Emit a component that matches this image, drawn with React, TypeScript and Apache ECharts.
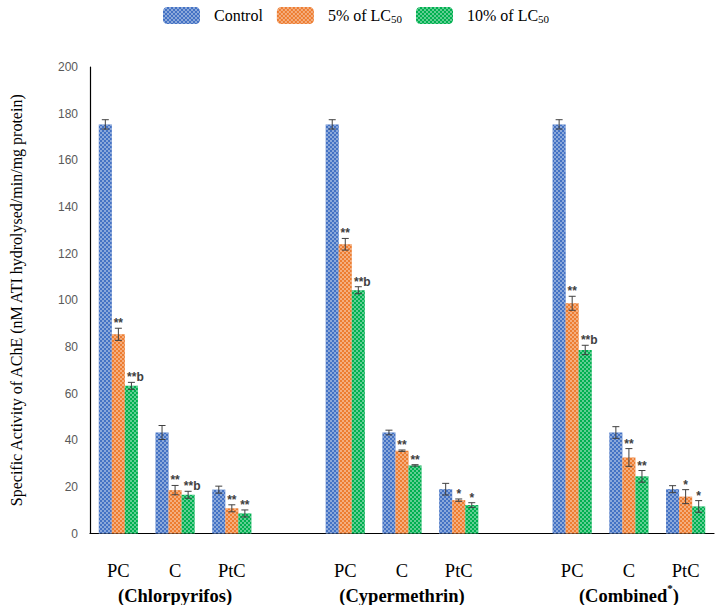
import React, { useEffect, useRef } from 'react';
import * as echarts from 'echarts';

const categories = ['PC', 'C', 'PtC', '', 'PC', 'C', 'PtC', '', 'PC', 'C', 'PtC'];
const groupLabels = ['(Chlorpyrifos)', '(Cypermethrin)', '(Combined*)'];
const seriesNames = ['Control', '5% of LC50', '10% of LC50'];

const controlValues = [175.4, 43.3, 18.8, null, 175.4, 43.3, 19.0, null, 175.4, 43.3, 19.0];
const controlErr = [2.0, 3.0, 1.5, null, 2.0, 1.0, 2.5, null, 2.0, 2.5, 1.5];
const controlSig = ['', '', '', '', '', '', '', '', '', '', ''];

const lc5Values = [85.4, 18.6, 10.8, null, 124.0, 35.5, 14.3, null, 98.7, 32.6, 15.8];
const lc5Err = [2.6, 2.0, 1.5, null, 2.5, 0.3, 0.5, null, 3.0, 3.8, 3.0];
const lc5Sig = ['**', '**', '**', '', '**', '**', '*', '', '**', '**', '*'];

const lc10Values = [63.3, 16.6, 8.6, null, 104.3, 29.2, 12.2, null, 78.7, 24.5, 11.6];
const lc10Err = [1.5, 1.5, 1.5, null, 1.5, 0.3, 1.0, null, 2.0, 2.5, 2.5];
const lc10Sig = ['**b', '**b', '**', '', '**b', '**', '*', '', '**b', '**', '*'];

const yTicks = { min: 0, max: 200, interval: 20 };

const colors = ['#4472C4', '#ED7D31', '#00B050'];
const GAP = 0.31;
const SERIF = '"Liberation Serif", "Times New Roman", serif';
const SANS = '"Liberation Sans", Arial, sans-serif';

const decal = {
  symbol: 'rect',
  symbolSize: 1,
  color: 'rgba(255,255,255,0.38)',
  dashArrayX: [[2, 2], [0, 2, 2, 0]],
  dashArrayY: [2, 0],
};

function groupLabelRich(label: string): string {
  const parts = label.split('*');
  if (parts.length === 1) return `{grp|${label}}`;
  return `{grp|${parts[0]}}{sup|*}{grp|${parts[1]}}`;
}

function barSeries(k: number, values: (number | null)[]) {
  return {
    name: seriesNames[k],
    type: 'bar',
    data: values.map((v) => (v == null ? '-' : v)),
    barGap: '0%',
    barCategoryGap: `${GAP * 100}%`,
    itemStyle: { color: colors[k], decal },
    emphasis: { disabled: true },
  };
}

function errSeries(k: number, values: (number | null)[], errs: (number | null)[], sigs: string[]) {
  const data: number[][] = [];
  values.forEach((v, i) => {
    if (v != null) data.push([i, v, errs[i] as number]);
  });
  return {
    type: 'custom',
    silent: true,
    z: 5,
    data,
    encode: { x: 0, y: 1 },
    renderItem: (params: any, api: any) => {
      const i = api.value(0);
      const v = api.value(1);
      const e = api.value(2);
      const slot = api.size([1, 0])[0];
      const bw = (slot * (1 - GAP)) / 3;
      const c = api.coord([i, v]);
      const x = c[0] + (k - 1) * bw;
      const top = api.coord([i, v + e])[1];
      const bot = api.coord([i, v - e])[1];
      const hw = 3.5;
      const stroke = { stroke: '#404040', lineWidth: 1 };
      const children: any[] = [
        { type: 'line', shape: { x1: x, y1: top, x2: x, y2: bot }, style: stroke },
        { type: 'line', shape: { x1: x - hw, y1: top, x2: x + hw, y2: top }, style: stroke },
        { type: 'line', shape: { x1: x - hw, y1: bot, x2: x + hw, y2: bot }, style: stroke },
      ];
      const sig = sigs[i];
      if (sig) {
        children.push({
          type: 'text',
          x: x + (sig.length > 2 ? 4 : 0),
          y: top + 1,
          style: {
            text: sig,
            align: 'center',
            verticalAlign: 'bottom',
            fontSize: 12,
            fontWeight: 'bold',
            fontFamily: SANS,
            fill: '#404040',
          },
        });
      }
      return { type: 'group', children };
    },
  };
}

export default function App() {
  const ref = useRef<HTMLDivElement>(null);

  useEffect(() => {
    if (!ref.current) return;
    const chart = echarts.init(ref.current, null, { renderer: 'svg' });
    chart.setOption({
      animation: false,
      backgroundColor: '#ffffff',
      legend: {
        data: seriesNames,
        left: 158,
        top: 2,
        itemWidth: 37,
        itemHeight: 17,
        itemGap: 14,
        selectedMode: false,
        formatter: (name: string) => name.replace(/LC50$/, 'LC{sub|50}'),
        textStyle: {
          fontFamily: SERIF,
          fontSize: 16,
          color: '#000',
          padding: [0, 0, 0, 9],
          rich: {
            sub: {
              fontFamily: SERIF,
              fontSize: 11,
              color: '#000',
              verticalAlign: 'bottom',
              padding: [7, 0, 0, 0],
            },
          },
        },
      },
      grid: { left: 87, right: 3, top: 67, bottom: 70.5, containLabel: false },
      xAxis: {
        type: 'category',
        data: categories,
        axisTick: { show: false },
        axisLine: { lineStyle: { color: '#000', width: 1.2 } },
        axisLabel: {
          interval: 0,
          margin: 25,
          formatter: (value: string, index: number) => {
            if (!value) return '';
            let s = `{cat|${value}}`;
            if (value === 'C') s += `\n${groupLabelRich(groupLabels[Math.floor(index / 4)])}`;
            return s;
          },
          rich: {
            cat: { fontFamily: SERIF, fontSize: 18.5, color: '#000', lineHeight: 24 },
            grp: { fontFamily: SERIF, fontSize: 18.5, fontWeight: 'bold', color: '#000', lineHeight: 26 },
            sup: {
              fontFamily: SERIF,
              fontSize: 11,
              fontWeight: 'bold',
              color: '#000',
              verticalAlign: 'top',
              padding: [0, 0, 8, 0],
            },
          },
        },
      },
      yAxis: {
        type: 'value',
        min: yTicks.min,
        max: yTicks.max,
        interval: yTicks.interval,
        name: 'Specific Activity of AChE (nM ATI hydrolysed/min/mg protein)',
        nameLocation: 'middle',
        nameRotate: 90,
        nameGap: 66,
        nameTextStyle: { fontFamily: SERIF, fontSize: 16, color: '#000' },
        axisLine: { show: true, lineStyle: { color: '#000', width: 1.2 } },
        axisTick: { show: false },
        splitLine: { show: false },
        axisLabel: { fontFamily: SANS, fontSize: 12, color: '#595959', margin: 12 },
      },
      series: [
        barSeries(0, controlValues),
        barSeries(1, lc5Values),
        barSeries(2, lc10Values),
        errSeries(0, controlValues, controlErr, controlSig),
        errSeries(1, lc5Values, lc5Err, lc5Sig),
        errSeries(2, lc10Values, lc10Err, lc10Sig),
      ],
    });
    return () => chart.dispose();
  }, []);

  return (
    <div
      ref={ref}
      style={{ position: 'fixed', left: 0, top: 0, width: 717, height: 605, background: '#fff' }}
    />
  );
}
